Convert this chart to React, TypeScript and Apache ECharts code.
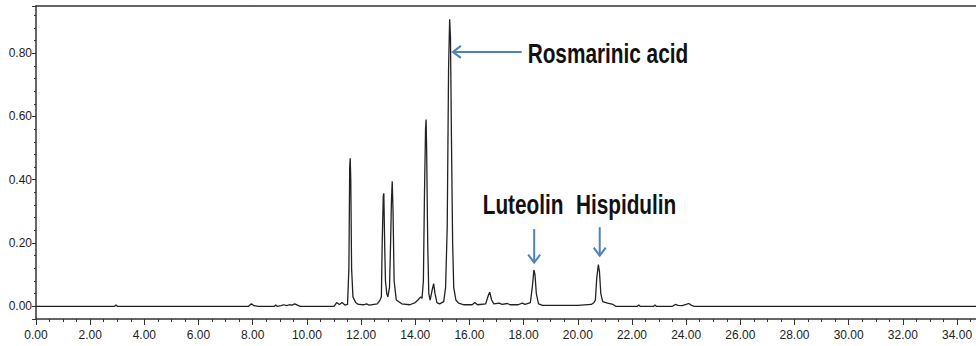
import React, { useEffect, useRef } from "react";
import * as echarts from "echarts";

// Retention time (min) and absorbance (AU)
const retentionTime: number[] = [
  0, 2.9, 2.95, 3.0,
  7.85, 7.95, 8.05, 8.2,
  8.8, 8.85, 8.9,
  9.05, 9.15, 9.25, 9.35, 9.45, 9.55, 9.65, 9.75,
  11.0, 11.1, 11.2, 11.3, 11.4, 11.5,
  11.55, 11.58, 11.6, 11.62, 11.65, 11.7, 11.8, 11.9, 12.1, 12.2, 12.3, 12.6, 12.7, 12.75,
  12.78, 12.82, 12.84, 12.87, 12.9, 12.95, 12.99,
  13.05, 13.09, 13.12, 13.15, 13.18, 13.22, 13.3, 13.5, 13.8, 14.0, 14.1, 14.2, 14.25, 14.3,
  14.34, 14.38, 14.4, 14.42, 14.46, 14.5, 14.55, 14.62, 14.68, 14.73, 14.8, 14.9,
  15.05, 15.12, 15.18, 15.23, 15.27, 15.3, 15.34, 15.38, 15.42, 15.5, 15.6, 15.8,
  16.1, 16.2, 16.3, 16.6, 16.7, 16.75, 16.82, 16.9, 17.1, 17.2, 17.4, 17.5, 17.8,
  17.95, 18.05, 18.25, 18.32, 18.38, 18.42, 18.47, 18.55, 18.7,
  20.0, 20.5, 20.6, 20.65, 20.7, 20.76, 20.8, 20.85, 20.92, 21.1, 21.3, 21.4,
  22.2, 22.25, 22.3, 22.8, 22.85, 22.9,
  23.5, 23.6, 23.7, 23.85, 24.0, 24.1, 24.2, 24.3, 34.7,
];
const absorbance: number[] = [
  0, 0, 0.004, 0,
  0, 0.008, 0.002, 0,
  0, 0.004, 0,
  0.002, 0.005, 0.002, 0.005, 0.004, 0.008, 0.004, 0,
  0, 0.012, 0.006, 0.012, 0.004, 0.006,
  0.12, 0.44, 0.468, 0.4, 0.12, 0.03, 0.012, 0.006, 0.005, 0.008, 0.004, 0.008, 0.02, 0.03,
  0.2, 0.35, 0.357, 0.2, 0.08, 0.04, 0.03,
  0.06, 0.2, 0.33, 0.395, 0.3, 0.08, 0.02, 0.008, 0.005, 0.012, 0.02, 0.03, 0.025, 0.08,
  0.35, 0.56, 0.59, 0.5, 0.2, 0.04, 0.02, 0.05, 0.072, 0.04, 0.012, 0.008,
  0.015, 0.06, 0.25, 0.75, 0.907, 0.85, 0.5, 0.2, 0.06, 0.02, 0.01, 0.005,
  0.005, 0.012, 0.005, 0.008, 0.035, 0.045, 0.02, 0.008, 0.01, 0.006, 0.009, 0.005, 0.005,
  0.01, 0.006, 0.012, 0.06, 0.115, 0.1, 0.04, 0.008, 0.003,
  0.003, 0.006, 0.012, 0.02, 0.09, 0.132, 0.11, 0.04, 0.015, 0.01, 0.006, 0,
  0, 0.004, 0, 0, 0.004, 0,
  0, 0.006, 0.003, 0.002, 0.006, 0.009, 0.003, 0, 0,
];

// Compound annotations (text position and arrow, in data units)
const compoundNames: string[] = ["Rosmarinic acid", "Luteolin", "Hispidulin"];
const labelAnchors: number[][] = [[18.15, 0.8], [16.49, 0.322], [19.93, 0.322]];
const arrowStarts: number[][] = [[17.93, 0.804], [18.39, 0.244], [20.81, 0.25]];
const arrowEnds: number[][] = [[15.39, 0.804], [18.39, 0.138], [20.81, 0.16]];

const xTickFormat = (v: number) => v.toFixed(2);

export default function App() {
  const ref = useRef<HTMLDivElement>(null);
  useEffect(() => {
    if (!ref.current) return;
    const chart = echarts.init(ref.current, null, { renderer: "svg" });
    const axisColor = "#333";
    const labelFont = "'Liberation Sans', Arial, sans-serif";
    chart.setOption({
      animation: false,
      grid: { left: 36, right: 0, top: 6, bottom: 27 },
      xAxis: [
        {
          type: "value",
          min: 0,
          max: 34.7,
          interval: 2,
          axisLine: { show: true, onZero: false, lineStyle: { color: axisColor, width: 1.5 } },
          axisTick: { show: true, length: 6, lineStyle: { color: axisColor } },
          minorTick: { show: true, splitNumber: 4, length: 3, lineStyle: { color: axisColor } },
          axisLabel: {
            formatter: xTickFormat,
            color: "#222",
            fontSize: 12,
            fontFamily: labelFont,
            margin: 10,
            showMaxLabel: false,
          },
          splitLine: { show: false },
        },
        {
          type: "value",
          position: "top",
          min: 0,
          max: 34.7,
          axisLine: { show: true, onZero: false, lineStyle: { color: axisColor, width: 1.5 } },
          axisTick: { show: false },
          axisLabel: { show: false },
          splitLine: { show: false },
        },
      ],
      yAxis: {
        type: "value",
        min: -0.04,
        max: 0.949,
        splitNumber: 5,
        axisLine: { show: true, onZero: false, lineStyle: { color: axisColor, width: 1.5 } },
        axisTick: { show: true, length: 4, lineStyle: { color: axisColor } },
        minorTick: { show: true, splitNumber: 5, length: 2, lineStyle: { color: axisColor } },
        axisLabel: {
          formatter: (v: number) => v.toFixed(2),
          color: "#222",
          fontSize: 12,
          fontFamily: labelFont,
          margin: 4,
          showMinLabel: false,
          showMaxLabel: false,
        },
        splitLine: { show: false },
      },
      series: [
        {
          type: "line",
          xAxisIndex: 0,
          yAxisIndex: 0,
          data: retentionTime.map((t, i) => [t, absorbance[i]]),
          showSymbol: false,
          symbol: "none",
          lineStyle: { color: "#222", width: 1.3 },
        },
      ],
    });

    const px = (p: number[]) => chart.convertToPixel({ gridIndex: 0 }, p) as number[];
    const arrowColor = "#4f81bd";
    const graphics: any[] = [];
    compoundNames.forEach((name, i) => {
      const a = px(labelAnchors[i]);
      graphics.push({
        type: "text",
        x: a[0],
        y: a[1],
        scaleX: 0.77,
        style: {
          text: name,
          fill: "#111",
          font: "bold 27px 'Liberation Sans', Arial, sans-serif",
          verticalAlign: "middle",
        },
      });
      const s = px(arrowStarts[i]);
      const e = px(arrowEnds[i]);
      const dx = e[0] - s[0];
      const dy = e[1] - s[1];
      const len = Math.hypot(dx, dy);
      const ux = dx / len;
      const uy = dy / len;
      const h = 8;
      const w = 6;
      graphics.push({
        type: "line",
        shape: { x1: s[0], y1: s[1], x2: e[0], y2: e[1] },
        style: { stroke: arrowColor, lineWidth: 2 },
      });
      graphics.push({
        type: "polyline",
        shape: {
          points: [
            [e[0] - ux * h - uy * w, e[1] - uy * h + ux * w],
            [e[0], e[1]],
            [e[0] - ux * h + uy * w, e[1] - uy * h - ux * w],
          ],
        },
        style: { stroke: arrowColor, lineWidth: 2, fill: "none" },
      });
    });
    chart.setOption({ graphic: graphics });

    return () => chart.dispose();
  }, []);
  return (
    <div
      ref={ref}
      style={{ position: "absolute", left: 0, top: 0, width: 976, height: 346, background: "#fff" }}
    />
  );
}
